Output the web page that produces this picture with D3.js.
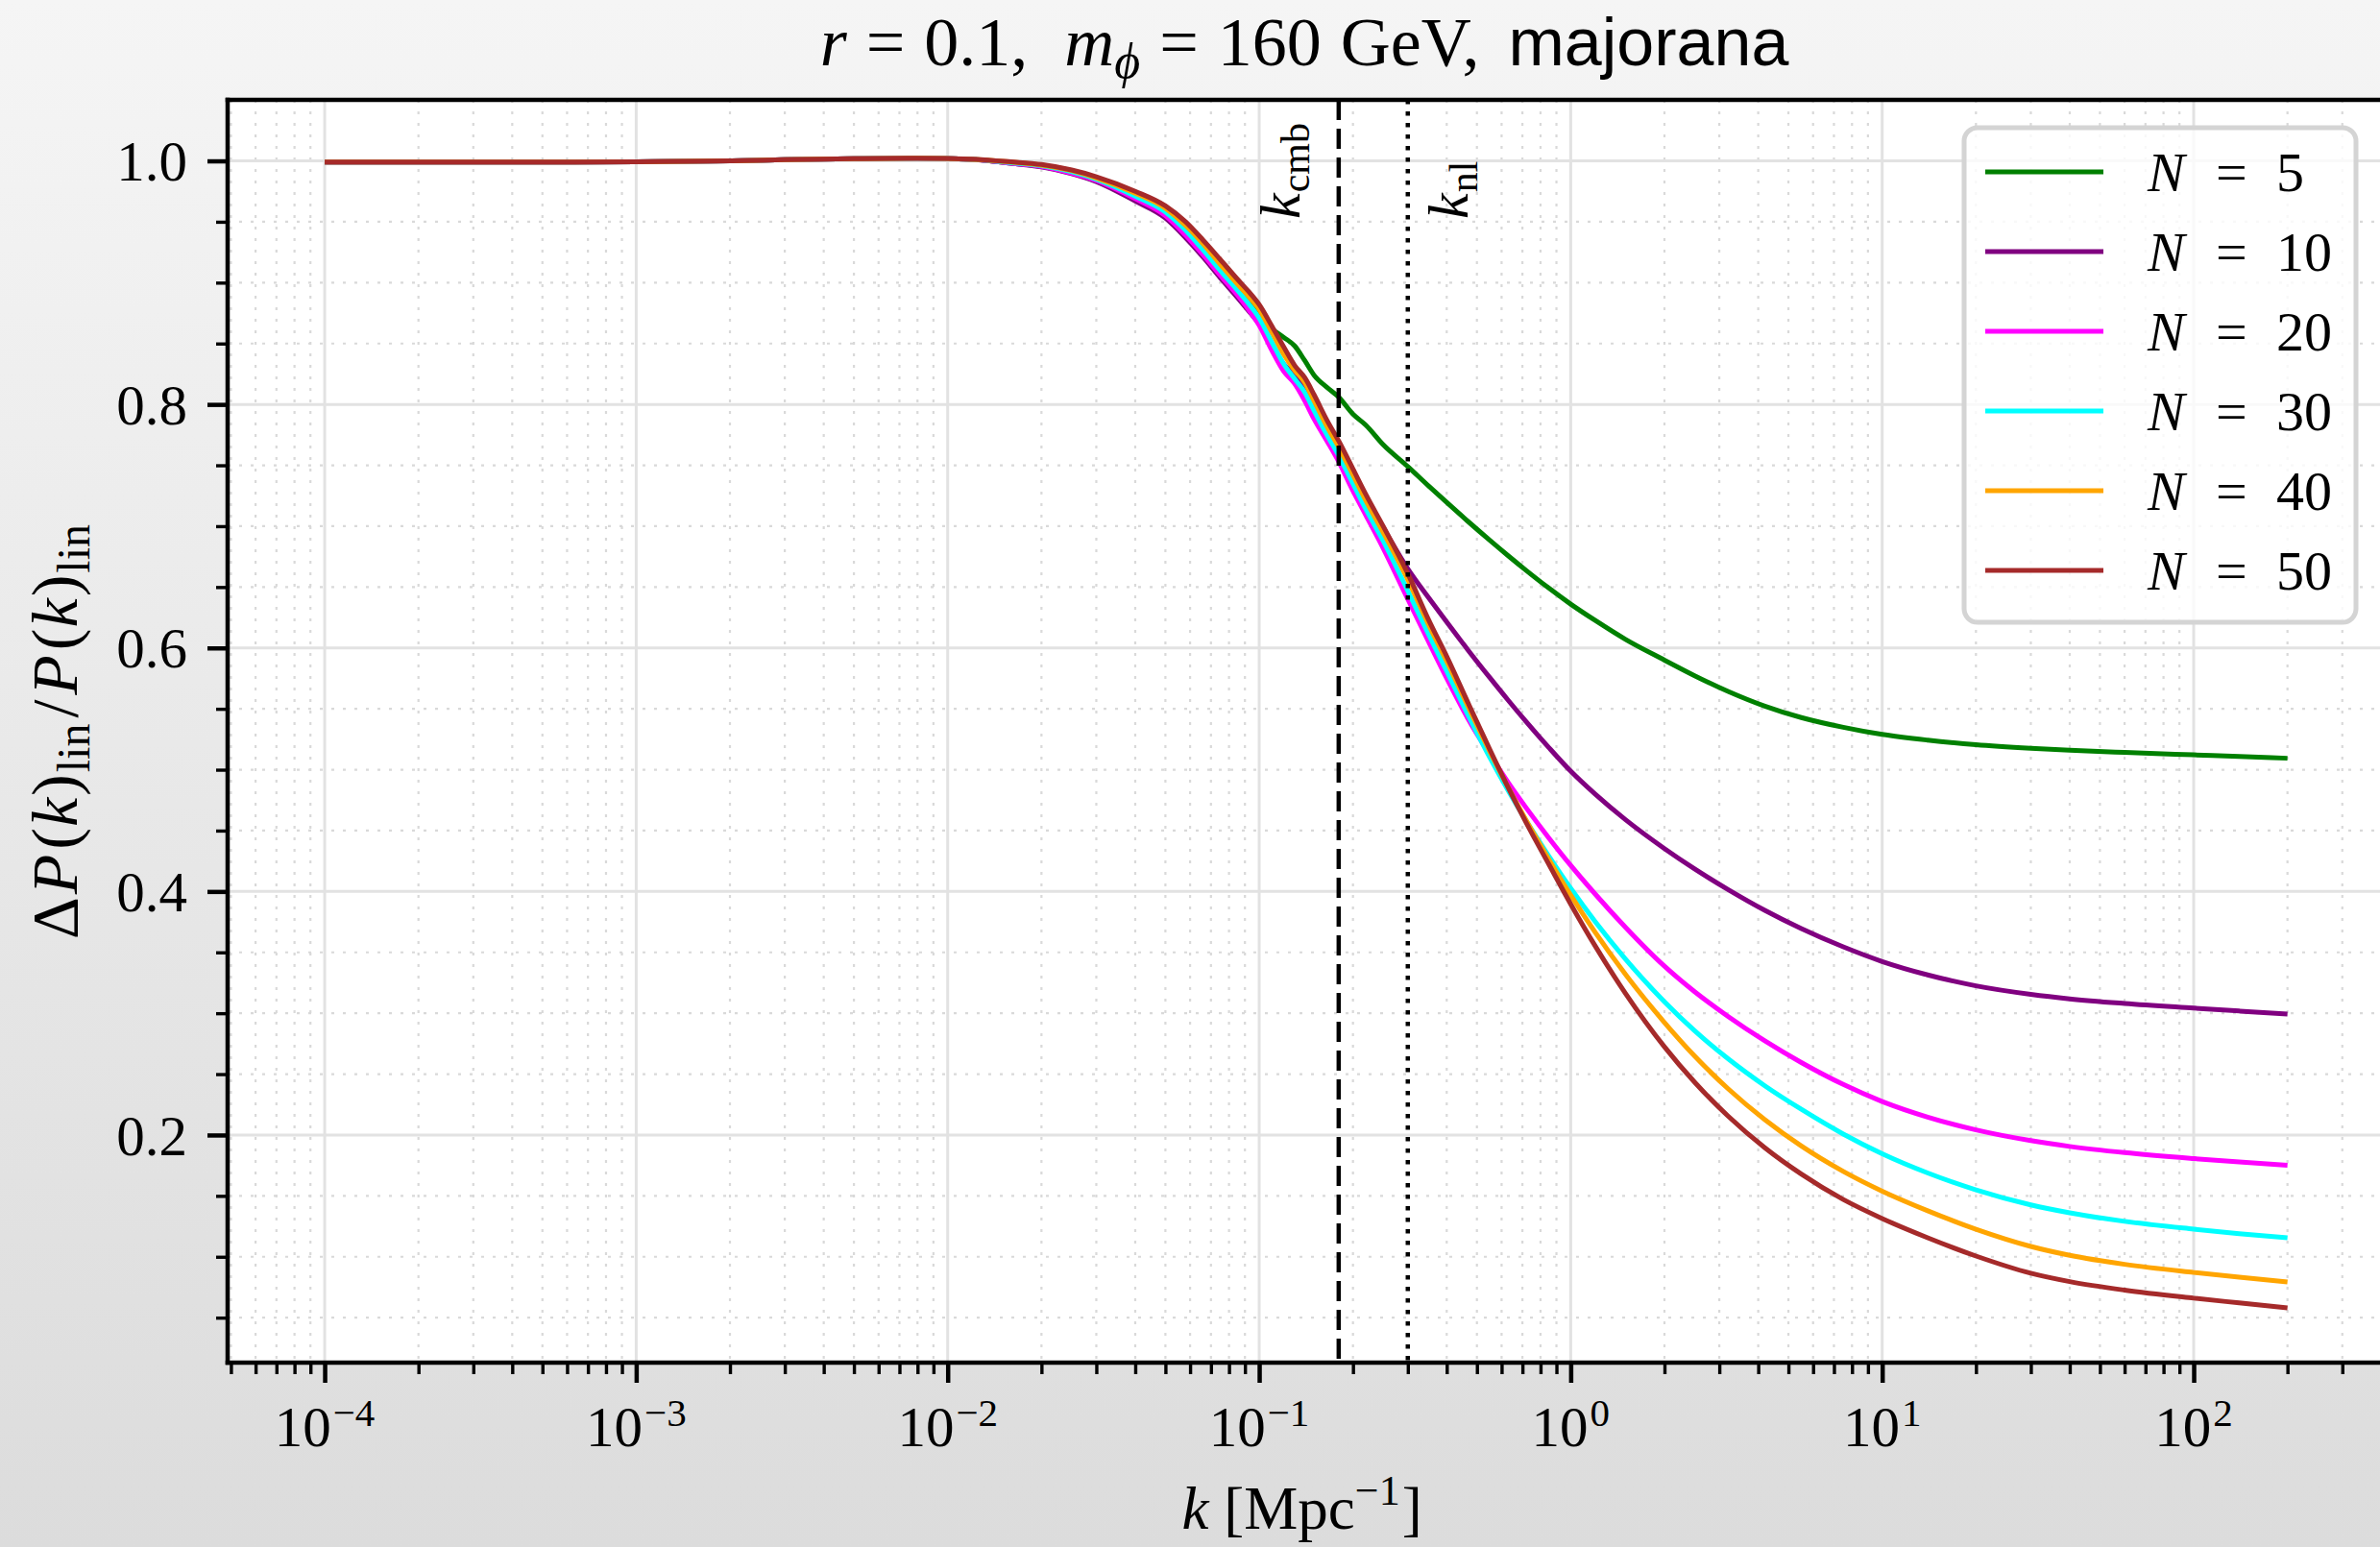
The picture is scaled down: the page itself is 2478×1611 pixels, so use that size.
<!DOCTYPE html>
<html>
<head>
<meta charset="utf-8">
<script src="https://cdn.jsdelivr.net/npm/d3@7"></script>
<style>
  html, body { margin: 0; padding: 0; background: #ffffff; }
  svg { display: block; }
</style>
</head>
<body>
<svg id="chart" width="2478" height="1611"></svg>
<script>
// Wavenumbers k [1/Mpc] at which the suppression ratio is sampled
const kGrid = [0.0001, 0.0003, 0.001, 0.002, 0.003, 0.005, 0.008, 0.012, 0.016, 0.02,
  0.025, 0.03, 0.04, 0.05, 0.058, 0.066, 0.075, 0.085, 0.093, 0.1,
  0.11, 0.12, 0.13, 0.14, 0.15, 0.165, 0.18, 0.2, 0.22, 0.25,
  0.3, 0.35, 0.4, 0.47, 0.55, 0.63, 0.72, 0.85, 1.0, 1.2,
  1.5, 2.0, 2.5, 3.2, 4.2, 5.5, 7.5, 10, 14, 20,
  30, 40, 60, 100, 140, 200];

// ΔP(k)_lin / P(k)_lin for each number of species N
const ratioN5 = [0.999, 0.999, 0.9993, 1.0, 1.001, 1.0018, 1.0021, 1.0012, 0.998, 0.9955,
  0.990, 0.9835, 0.969, 0.956, 0.941, 0.926, 0.910, 0.895, 0.884, 0.874,
  0.862, 0.855, 0.848, 0.836, 0.824, 0.814, 0.806, 0.792, 0.783, 0.767,
  0.749, 0.733, 0.7195, 0.7035, 0.6884, 0.6757, 0.6636, 0.6492, 0.636, 0.6225,
  0.607, 0.590, 0.5772, 0.5643, 0.5522, 0.5428, 0.5348, 0.529, 0.5243, 0.5205,
  0.5176, 0.516, 0.5142, 0.5122, 0.5109, 0.5094];

const ratioN10 = [0.999, 0.999, 0.9993, 1.0, 1.001, 1.0018, 1.0021, 1.0012, 0.998, 0.995,
  0.9895, 0.983, 0.967, 0.953, 0.937, 0.921, 0.904, 0.888, 0.876, 0.866,
  0.848, 0.833, 0.824, 0.812, 0.799, 0.781, 0.765, 0.743, 0.724, 0.699,
  0.665, 0.6412, 0.6212, 0.5977, 0.5756, 0.557, 0.5393, 0.5183, 0.4988, 0.4798,
  0.4589, 0.4352, 0.4185, 0.4016, 0.3845, 0.3695, 0.3545, 0.3425, 0.3315, 0.3225,
  0.3155, 0.3118, 0.308, 0.3042, 0.3018, 0.2993];

const ratioN20 = [0.999, 0.999, 0.9993, 1.0, 1.001, 1.0018, 1.0021, 1.0012, 0.998, 0.9955,
  0.990, 0.984, 0.969, 0.955, 0.939, 0.923, 0.906, 0.890, 0.877, 0.865,
  0.844, 0.827, 0.817, 0.803, 0.788, 0.770, 0.753, 0.729, 0.709, 0.682,
  0.640, 0.605, 0.575, 0.541, 0.5125, 0.4895, 0.4686, 0.4441, 0.4214, 0.3977,
  0.3705, 0.3386, 0.3177, 0.2974, 0.2773, 0.2595, 0.2415, 0.2275, 0.2147, 0.2042,
  0.1954, 0.1906, 0.1855, 0.1806, 0.1778, 0.1752];

const ratioN30 = [0.999, 0.999, 0.9993, 1.0, 1.001, 1.0018, 1.0021, 1.0012, 0.9985, 0.996,
  0.991, 0.985, 0.971, 0.958, 0.943, 0.927, 0.910, 0.894, 0.882, 0.871,
  0.851, 0.833, 0.821, 0.810, 0.795, 0.775, 0.758, 0.735, 0.714, 0.688,
  0.647, 0.611, 0.581, 0.544, 0.510, 0.4829, 0.458, 0.4292, 0.4026, 0.375,
  0.3444, 0.3094, 0.2856, 0.2626, 0.2404, 0.2211, 0.2008, 0.1846, 0.1688, 0.1549,
  0.1426, 0.1361, 0.1291, 0.1227, 0.119, 0.1156];

const ratioN40 = [0.999, 0.999, 0.9993, 1.0, 1.001, 1.0018, 1.0021, 1.0013, 0.999, 0.9965,
  0.992, 0.986, 0.9735, 0.961, 0.947, 0.932, 0.915, 0.899, 0.888, 0.878,
  0.859, 0.841, 0.828, 0.818, 0.803, 0.782, 0.765, 0.742, 0.721, 0.695,
  0.656, 0.619, 0.589, 0.551, 0.515, 0.4855, 0.4582, 0.4265, 0.397, 0.3662,
  0.3318, 0.2924, 0.2648, 0.238, 0.2126, 0.191, 0.1701, 0.1539, 0.1378, 0.1226,
  0.1085, 0.1012, 0.0938, 0.0871, 0.0832, 0.0793];

const ratioN50 = [0.999, 0.999, 0.9993, 1.0, 1.001, 1.0018, 1.0022, 1.0014, 0.9992, 0.997,
  0.9925, 0.987, 0.975, 0.963, 0.950, 0.935, 0.919, 0.903, 0.892, 0.882,
  0.864, 0.847, 0.832, 0.822, 0.808, 0.787, 0.770, 0.747, 0.726, 0.700,
  0.661, 0.623, 0.593, 0.554, 0.5166, 0.4853, 0.4563, 0.4225, 0.3897, 0.355,
  0.3162, 0.2724, 0.2433, 0.2155, 0.1895, 0.1679, 0.147, 0.1314, 0.1156, 0.1006,
  0.0865, 0.0796, 0.0726, 0.066, 0.0621, 0.058];

const seriesN = [5, 10, 20, 30, 40, 50];
const seriesValues = [ratioN5, ratioN10, ratioN20, ratioN30, ratioN40, ratioN50];
const seriesColors = ["#008000", "#800080", "#ff00ff", "#00ffff", "#ffa500", "#a52a2a"];

// Reference scales
const kCmb = 0.18;
const kNl = 0.3;

// Axis ticks and their labels
const xMajorTicks = [1e-4, 1e-3, 1e-2, 1e-1, 1e0, 1e1, 1e2];
const xTickExponents = ["\u22124", "\u22123", "\u22122", "\u22121", "0", "1", "2"];
const yMajorTicks = [0.2, 0.4, 0.6, 0.8, 1.0];
const yTickLabels = ["0.2", "0.4", "0.6", "0.8", "1.0"];

const W = 2478, H = 1611;
const plot = { left: 237, right: 2484, top: 104, bottom: 1419 };
const serif = "'Liberation Serif', 'Times New Roman', serif";
const sans = "'Liberation Sans', 'DejaVu Sans', sans-serif";

const svg = d3.select("#chart");
const defs = svg.append("defs");

// soft vertical background gradient of the figure
const grad = defs.append("linearGradient").attr("id", "bg").attr("x1", 0).attr("y1", 0).attr("x2", 0).attr("y2", 1);
grad.append("stop").attr("offset", "0%").attr("stop-color", "#f5f5f5");
grad.append("stop").attr("offset", "100%").attr("stop-color", "#dcdcdc");
svg.append("rect").attr("width", W).attr("height", H).attr("fill", "url(#bg)");

defs.append("clipPath").attr("id", "plotClip").append("rect")
  .attr("x", plot.left).attr("y", plot.top)
  .attr("width", plot.right - plot.left).attr("height", plot.bottom - plot.top);

const x = d3.scaleLog().domain([4.88e-5, 413.6]).range([plot.left, plot.right]);
const y = d3.scaleLinear().domain([0.01306, 1.0501]).range([plot.bottom, plot.top]);

// plot area
svg.append("rect").attr("x", plot.left).attr("y", plot.top)
  .attr("width", plot.right - plot.left).attr("height", plot.bottom - plot.top)
  .attr("fill", "#ffffff");

// minor tick positions
const [dMin, dMax] = x.domain();
const xMinorTicks = [];
for (let e = -5; e <= 2; e++) {
  for (let m = 2; m <= 9; m++) {
    const v = m * Math.pow(10, e);
    if (v >= dMin && v <= dMax) xMinorTicks.push(v);
  }
}
const yMinorTicks = d3.range(1, 21).map(i => i * 0.05)
  .filter(v => v > y.domain()[0] && v < y.domain()[1] && Math.abs(v / 0.2 - Math.round(v / 0.2)) > 1e-6);

// grid
const grid = svg.append("g").attr("clip-path", "url(#plotClip)");
grid.selectAll("line.xminor").data(xMinorTicks).join("line")
  .attr("x1", d => x(d)).attr("x2", d => x(d))
  .attr("y1", plot.top).attr("y2", plot.bottom)
  .attr("stroke", "#d9d9d9").attr("stroke-width", 2.2).attr("stroke-dasharray", "3,9");
grid.selectAll("line.yminor").data(yMinorTicks).join("line")
  .attr("x1", plot.left).attr("x2", plot.right)
  .attr("y1", d => y(d)).attr("y2", d => y(d))
  .attr("stroke", "#d9d9d9").attr("stroke-width", 2.2).attr("stroke-dasharray", "3,9");
grid.selectAll("line.xmajor").data(xMajorTicks).join("line")
  .attr("x1", d => x(d)).attr("x2", d => x(d))
  .attr("y1", plot.top).attr("y2", plot.bottom)
  .attr("stroke", "#e2e2e2").attr("stroke-width", 3);
grid.selectAll("line.ymajor").data(yMajorTicks).join("line")
  .attr("x1", plot.left).attr("x2", plot.right)
  .attr("y1", d => y(d)).attr("y2", d => y(d))
  .attr("stroke", "#e2e2e2").attr("stroke-width", 3);

// curves
const line = d3.line().x(d => x(d.k)).y(d => y(d.v)).curve(d3.curveMonotoneX);
const curves = svg.append("g").attr("clip-path", "url(#plotClip)");
seriesValues.forEach((vals, i) => {
  const pts = kGrid.map((k, j) => ({ k: k, v: vals[j] }));
  curves.append("path").datum(pts)
    .attr("d", line).attr("fill", "none")
    .attr("stroke", seriesColors[i]).attr("stroke-width", 5)
    .attr("stroke-linejoin", "round").attr("stroke-linecap", "butt");
});

// reference wavenumbers
const vlines = svg.append("g");
vlines.append("line").attr("x1", x(kCmb)).attr("x2", x(kCmb))
  .attr("y1", plot.top).attr("y2", plot.bottom)
  .attr("stroke", "#000").attr("stroke-width", 4.5).attr("stroke-dasharray", "21,9");
vlines.append("line").attr("x1", x(kNl)).attr("x2", x(kNl))
  .attr("y1", plot.top).attr("y2", plot.bottom)
  .attr("stroke", "#000").attr("stroke-width", 4.5).attr("stroke-dasharray", "4.5,7.5");

function refLabel(px, sub) {
  const t = svg.append("text")
    .attr("transform", `translate(${px},228) rotate(-90)`)
    .attr("font-family", serif).attr("font-size", 60).attr("fill", "#000");
  t.append("tspan").attr("font-style", "italic").text("k");
  t.append("tspan").attr("font-size", 42).attr("dy", 10).attr("dx", 1).text(sub);
}
refLabel(x(kCmb) - 41, "cmb");
refLabel(x(kNl) + 62, "nl");

// axes
const xMajorAxis = d3.axisBottom(x).tickValues(xMajorTicks).tickSize(21).tickSizeOuter(0).tickFormat("");
const xMinorAxis = d3.axisBottom(x).tickValues(xMinorTicks).tickSize(12).tickSizeOuter(0).tickFormat("");
const yMajorAxis = d3.axisLeft(y).tickValues(yMajorTicks).tickSize(21).tickSizeOuter(0).tickFormat("");
const yMinorAxis = d3.axisLeft(y).tickValues(yMinorTicks).tickSize(12).tickSizeOuter(0).tickFormat("");

function styleAxis(g, w) {
  g.select(".domain").remove();
  g.selectAll(".tick line").attr("stroke", "#000").attr("stroke-width", w);
}
svg.append("g").attr("transform", `translate(0,${plot.bottom})`).call(xMinorAxis).call(g => styleAxis(g, 3.4));
svg.append("g").attr("transform", `translate(0,${plot.bottom})`).call(xMajorAxis).call(g => styleAxis(g, 4.5));
svg.append("g").attr("transform", `translate(${plot.left},0)`).call(yMinorAxis).call(g => styleAxis(g, 3.4));
svg.append("g").attr("transform", `translate(${plot.left},0)`).call(yMajorAxis).call(g => styleAxis(g, 4.5));

// spines
const spines = svg.append("g").attr("stroke", "#000").attr("stroke-width", 4.5).attr("stroke-linecap", "square");
spines.append("line").attr("x1", plot.left).attr("x2", plot.left).attr("y1", plot.top).attr("y2", plot.bottom);
spines.append("line").attr("x1", plot.left).attr("x2", plot.right).attr("y1", plot.bottom).attr("y2", plot.bottom);
spines.append("line").attr("x1", plot.left).attr("x2", plot.right).attr("y1", plot.top).attr("y2", plot.top);
spines.append("line").attr("x1", plot.right).attr("x2", plot.right).attr("y1", plot.top).attr("y2", plot.bottom);

// tick labels
xMajorTicks.forEach((v, i) => {
  const t = svg.append("text").attr("x", x(v)).attr("y", 1506)
    .attr("text-anchor", "middle").attr("font-family", serif).attr("font-size", 59).attr("fill", "#000");
  t.append("tspan").text("10");
  t.append("tspan").attr("font-size", 41).attr("dy", -21).attr("dx", 2).text(xTickExponents[i]);
});
yMajorTicks.forEach((v, i) => {
  svg.append("text").attr("x", 195).attr("y", y(v)).attr("dy", "0.35em")
    .attr("text-anchor", "end").attr("font-family", serif).attr("font-size", 59).attr("fill", "#000")
    .text(yTickLabels[i]);
});

// axis titles
const xl = svg.append("text").attr("x", (plot.left + 2478) / 2 - 2).attr("y", 1592)
  .attr("text-anchor", "middle").attr("font-family", serif).attr("font-size", 63).attr("fill", "#000");
xl.append("tspan").attr("font-style", "italic").text("k");
xl.append("tspan").attr("dx", 16).text("[Mpc");
xl.append("tspan").attr("font-size", 44).attr("dy", -25).text("\u22121");
xl.append("tspan").attr("dy", 25).attr("dx", 2).text("]");

const yl = svg.append("text").attr("transform", "translate(80,762) rotate(-90)")
  .attr("text-anchor", "middle").attr("font-family", serif).attr("font-size", 68).attr("fill", "#000");
yl.append("tspan").text("\u0394");
yl.append("tspan").attr("font-style", "italic").attr("dx", 3).text("P");
yl.append("tspan").attr("dx", 5).text("(");
yl.append("tspan").attr("font-style", "italic").attr("dx", 1).text("k");
yl.append("tspan").attr("dx", 2).text(")");
yl.append("tspan").attr("font-size", 48).attr("dy", 13).attr("dx", 2).text("lin");
yl.append("tspan").attr("dy", -13).attr("dx", 6).text("/");
yl.append("tspan").attr("font-style", "italic").attr("dx", 5).text("P");
yl.append("tspan").attr("dx", 5).text("(");
yl.append("tspan").attr("font-style", "italic").attr("dx", 1).text("k");
yl.append("tspan").attr("dx", 2).text(")");
yl.append("tspan").attr("font-size", 48).attr("dy", 13).attr("dx", 2).text("lin");

// title
const title = svg.append("text").attr("x", 1358).attr("y", 68)
  .attr("text-anchor", "middle").attr("font-family", serif).attr("font-size", 72).attr("fill", "#000");
title.append("tspan").attr("font-style", "italic").text("r");
title.append("tspan").attr("dx", 20).text("=");
title.append("tspan").attr("dx", 20).text("0.1,");
title.append("tspan").attr("dx", 38).attr("font-style", "italic").text("m");
title.append("tspan").attr("font-style", "italic").attr("font-size", 52).attr("dy", 13).text("\u03d5");
title.append("tspan").attr("dy", -13).attr("dx", 20).text("=");
title.append("tspan").attr("dx", 20).text("160");
title.append("tspan").attr("dx", 20).text("GeV,");
title.append("tspan").attr("dx", 30).attr("font-family", sans).attr("font-size", 70).text("majorana");

// legend
const legend = svg.append("g");
legend.append("rect").attr("x", 2045).attr("y", 133).attr("width", 408).attr("height", 515)
  .attr("rx", 14).attr("fill", "#ffffff").attr("fill-opacity", 0.8)
  .attr("stroke", "#d4d4d4").attr("stroke-width", 5);
seriesN.forEach((n, i) => {
  const cy = 179 + i * 83;
  legend.append("line").attr("x1", 2067).attr("x2", 2190).attr("y1", cy).attr("y2", cy)
    .attr("stroke", seriesColors[i]).attr("stroke-width", 5);
  const t = legend.append("text").attr("y", cy + 20)
    .attr("font-family", serif).attr("font-size", 58).attr("fill", "#000");
  t.append("tspan").attr("x", 2236).attr("font-style", "italic").text("N");
  t.append("tspan").attr("x", 2307).text("=");
  t.append("tspan").attr("x", 2370).text(String(n));
});
</script>
</body>
</html>
